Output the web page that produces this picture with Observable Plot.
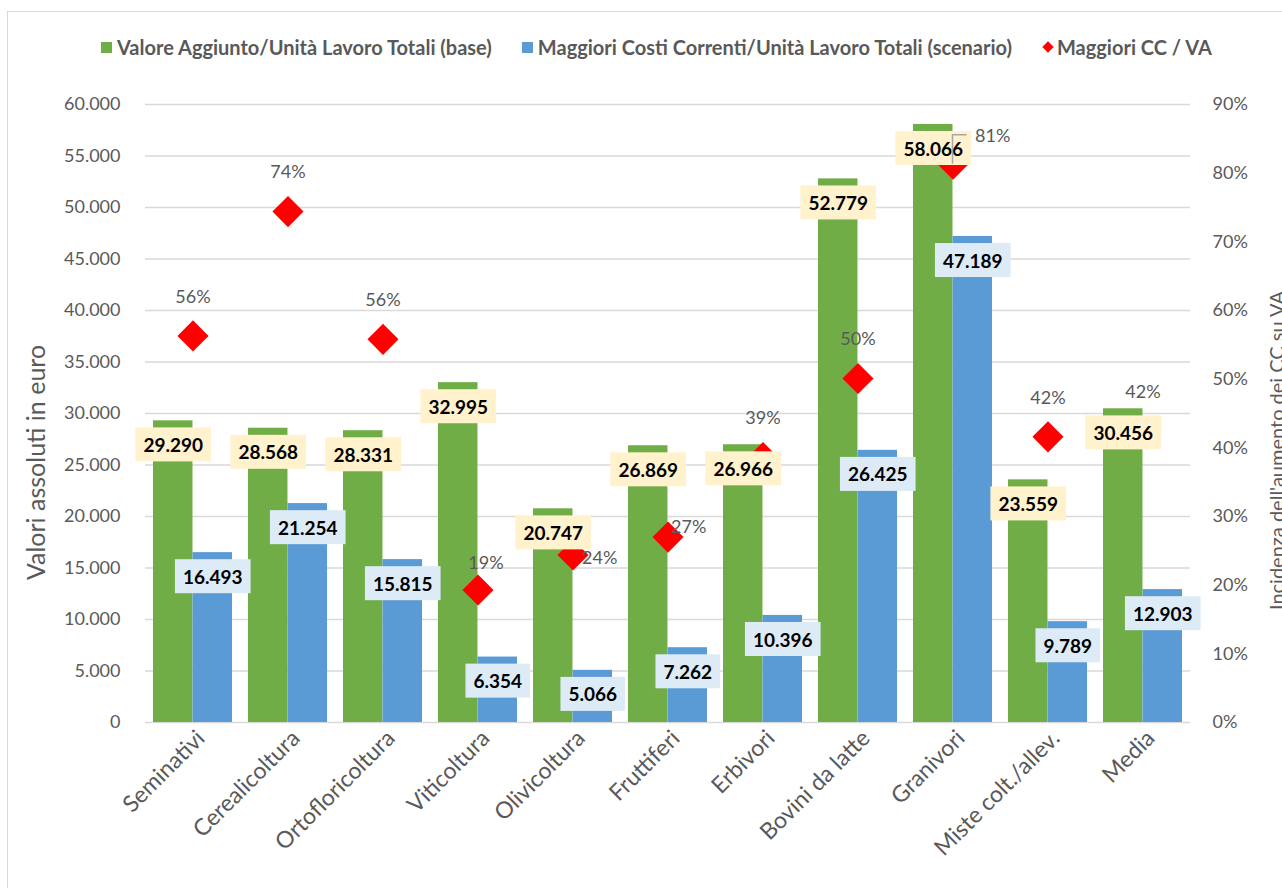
<!DOCTYPE html>
<html><head><meta charset="utf-8">
<script src="https://cdn.jsdelivr.net/npm/d3@7"></script>
<script src="https://cdn.jsdelivr.net/npm/@observablehq/plot@0.6"></script>
<style>
body{margin:0;background:#fff;}
#wrap{position:relative;width:1282px;height:888px;overflow:hidden;font-family:Lato,"Liberation Sans",sans-serif;background:#fff;}
#border{position:absolute;left:7px;top:11px;width:1400px;height:1000px;border:1.5px solid #d9d9d9;box-sizing:border-box;}
#legend{position:absolute;top:35px;left:0;width:1282px;height:24px;display:flex;align-items:center;justify-content:flex-start;padding-left:101px;box-sizing:border-box;}
.item{display:flex;align-items:center;font-weight:bold;font-size:20px;line-height:24px;color:#595959;margin-right:30px;white-space:nowrap;}
.sw{width:11px;height:11px;margin-right:5px;}
.dm{width:8px;height:8px;background:#f00;transform:rotate(45deg);margin-left:2px;margin-right:5px;}
#chart{position:absolute;top:80px;left:0;}
</style></head>
<body>
<div id="wrap">
  <div id="border"></div>
  <div id="legend"></div>
  <div id="chart"></div>
</div>
<script>
// ---- data ----
const categories = ["Seminativi","Cerealicoltura","Ortofloricoltura","Viticoltura","Olivicoltura","Fruttiferi","Erbivori","Bovini da latte","Granivori","Miste colt./allev.","Media"];
const valoreAggiunto = [29290, 28568, 28331, 32995, 20747, 26869, 26966, 52779, 58066, 23559, 30456];
const maggioriCosti = [16493, 21254, 15815, 6354, 5066, 7262, 10396, 26425, 47189, 9789, 12903];
const incidenza = [0.563, 0.744, 0.558, 0.193, 0.244, 0.270, 0.386, 0.501, 0.813, 0.416, 0.424];
const seriesNames = ["Valore Aggiunto/Unità Lavoro Totali (base)", "Maggiori Costi Correnti/Unità Lavoro Totali (scenario)", "Maggiori CC / VA"];
const leftTicks = [0,5000,10000,15000,20000,25000,30000,35000,40000,45000,50000,55000,60000];
const rightTicks = [0,0.1,0.2,0.3,0.4,0.5,0.6,0.7,0.8,0.9];
const leftTitle = "Valori assoluti in euro";
const rightTitle = "Incidenza dell'aumento dei CC su VA";

const data = categories.map((c,i)=>({cat:c, va:valoreAggiunto[i], cc:maggioriCosti[i], pct:incidenza[i]}));

// ---- styling ----
const GREEN="#70AD47", BLUE="#5B9BD5", RED="#FF0000", GREY="#595959";
const YMAX=60000, PMAX=0.9;
const toLeft = p => p*YMAX/PMAX;
const loc = d3.formatLocale({decimal:",", thousands:".", grouping:[3], currency:["€",""]});
const fmt = loc.format(",");
const pctFmt = p => Math.round(p*100)+"%";

// legend
const legend = document.getElementById("legend");
[[GREEN,"sq"],[BLUE,"sq"],[RED,"dm"]].forEach(([c,t],i)=>{
  const it=document.createElement("div"); it.className="item";
  const sw=document.createElement("div"); sw.className = t==="sq"?"sw":"dm"; sw.style.background=c;
  it.appendChild(sw); it.appendChild(document.createTextNode(seriesNames[i]));
  legend.appendChild(it);
});

const diamond = {draw(ctx,size){const r=Math.sqrt(size/2);ctx.moveTo(0,-r);ctx.lineTo(r,0);ctx.lineTo(0,r);ctx.lineTo(-r,0);ctx.closePath();}};

const half = 95*(1-0.168)/2;
// special placement of percentage labels
const pctPlace = {
  "Viticoltura": {dx:8, dy:-27, textAnchor:"middle"},
  "Olivicoltura": {dx:9, dy:3, textAnchor:"start"},
  "Fruttiferi": {dx:3, dy:-10, textAnchor:"start"},
  "Granivori": {dx:22, dy:-28, textAnchor:"start"}
};
const pctDefault = data.filter(d=>!pctPlace[d.cat]);

const leader = (index, scales, values, dims) => {
  const d = data.find(d=>d.cat==="Granivori");
  const xs = scales.x;
  const bw = (scales.scales && scales.scales.x && scales.scales.x.bandwidth) || (xs.bandwidth ? xs.bandwidth() : 0);
  const cx = xs(d.cat) + bw/2, cy = scales.y(toLeft(d.pct));
  return d3.create("svg:path").attr("d", `M${cx},${cy}V${cy-29}H${cx+14}`).attr("fill","none").attr("stroke","#a6a6a6").attr("stroke-width",1.5).node();
};

const chart = Plot.plot({
  width:1282, height:808,
  marginLeft:145, marginRight:92, marginTop:24, marginBottom:166,
  style:{fontFamily:"Lato, 'Liberation Sans', sans-serif", background:"transparent", overflow:"visible"},
  x:{type:"band", domain:categories, paddingInner:0.168, paddingOuter:0.084, label:null},
  y:{domain:[0,YMAX], label:null},
  marks:[
    Plot.gridY({ticks:leftTicks, stroke:"#d9d9d9", strokeOpacity:1, strokeWidth:1.5}),
    Plot.axisY({anchor:"left", ticks:leftTicks, tickFormat:fmt, tickSize:0, tickPadding:25, fontSize:18, color:GREY, label:null}),
    Plot.axisY({anchor:"right", ticks:rightTicks.map(toLeft), tickFormat:v=>Math.round(v*PMAX/YMAX*100)+"%", tickSize:0, tickPadding:22, fontSize:18, color:GREY, label:null}),
    Plot.axisX({tickRotate:-45, tickSize:0, tickPadding:12, fontSize:23, color:GREY, label:null, dx:8}),
    Plot.text([leftTitle], {frameAnchor:"left", rotate:-90, textAnchor:"middle", dx:-109, dy:49, fontSize:25, fill:GREY}),
    Plot.text([rightTitle], {frameAnchor:"right", rotate:-90, textAnchor:"middle", dx:87, dy:37, fontSize:20, fill:GREY}),
    Plot.barY(data, {x:"cat", y:"va", fill:GREEN, insetRight:half}),
    Plot.barY(data, {x:"cat", y:"cc", fill:BLUE, insetLeft:half}),
    Plot.dot(data, {x:"cat", y:d=>toLeft(d.pct), symbol:diamond, r:12.4, fill:RED, stroke:"none"}),
    Plot.text(data, {x:"cat", y:"va", text:d=>fmt(d.va), dx:-half/2, dy:25, fontSize:19, fontWeight:"bold", fill:"#000", ariaDescription:"va-labels"}),
    Plot.text(data, {x:"cat", y:"cc", text:d=>fmt(d.cc), dx:half/2, dy:25, fontSize:19, fontWeight:"bold", fill:"#000", ariaDescription:"cc-labels"}),
    Plot.text(pctDefault, {x:"cat", y:d=>toLeft(d.pct), text:d=>pctFmt(d.pct), dy:-39, fontSize:18, fill:GREY}),
    ...Object.entries(pctPlace).map(([c,o]) => Plot.text(data.filter(d=>d.cat===c), {x:"cat", y:d=>toLeft(d.pct), text:d=>pctFmt(d.pct), fontSize:18, fill:GREY, ...o})),
    leader
  ]
});
document.getElementById("chart").appendChild(chart);

// label backgrounds
[["va-labels","#FFF2CC"],["cc-labels","#DDEBF7"]].forEach(([lab,fill])=>{
  let texts = Array.from(chart.querySelectorAll(`g[aria-description="${lab}"] text`));
  if (!texts.length) texts = Array.from(chart.querySelectorAll(`[aria-description="${lab}"] text`));
  texts.forEach(t=>{
    const bb=t.getBBox();
    const r=document.createElementNS("http://www.w3.org/2000/svg","rect");
    const cy=bb.y+bb.height/2;
    r.setAttribute("x",bb.x-8); r.setAttribute("y",cy-17);
    r.setAttribute("width",bb.width+16); r.setAttribute("height",34);
    r.setAttribute("fill",fill);
    if (t.getAttribute("transform")) r.setAttribute("transform",t.getAttribute("transform"));
    t.parentNode.insertBefore(r,t);
  });
});
</script>
</body></html>
